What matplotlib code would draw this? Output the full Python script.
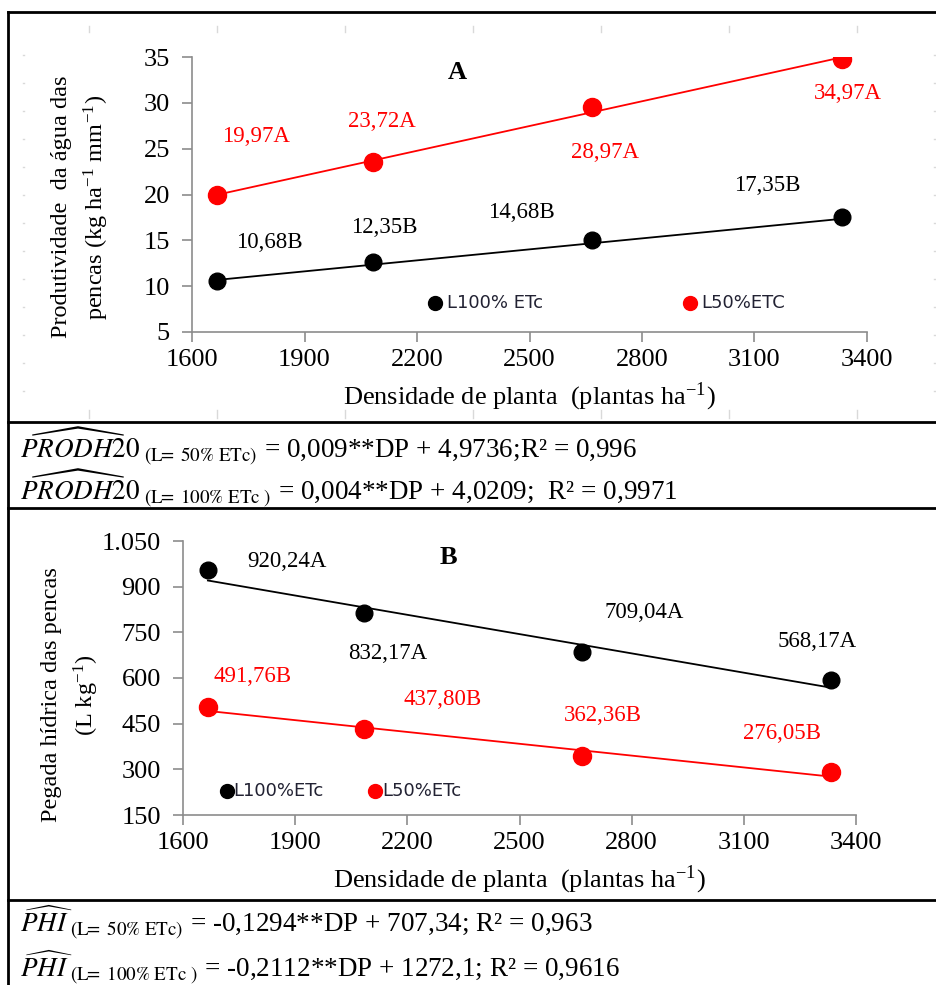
import matplotlib.pyplot as plt
from matplotlib.lines import Line2D

plt.rcParams['font.family'] = ['Liberation Serif', 'DejaVu Serif']
plt.rcParams['mathtext.fontset'] = 'stix'

# plant density (plants/ha)
density = [1666.67, 2083.33, 2666.67, 3333.33]

# A: water productivity of the hands, observed means
wp_100 = [10.6, 12.6, 15.0, 17.5]
wp_50 = [19.9, 23.5, 29.6, 34.8]
# A: fitted values shown as labels
wp_100_fit = [10.68, 12.35, 14.68, 17.35]
wp_50_fit = [19.97, 23.72, 28.97, 34.97]
wp_100_let = ['B', 'B', 'B', 'B']
wp_50_let = ['A', 'A', 'A', 'A']

# B: water footprint of the hands, observed means
wf_100 = [955, 813, 685, 593]
wf_50 = [505, 432, 344, 291]
# B: fitted values shown as labels
wf_100_fit = [920.24, 832.17, 709.04, 568.17]
wf_50_fit = [491.76, 437.80, 362.36, 276.05]
wf_100_let = ['A', 'A', 'A', 'A']
wf_50_let = ['B', 'B', 'B', 'B']

xticks = [1600, 1900, 2200, 2500, 2800, 3100, 3400]
yticks_a = [5, 10, 15, 20, 25, 30, 35]
yticks_b = [150, 300, 450, 600, 750, 900, 1050]
yticklabels_b = ['150', '300', '450', '600', '750', '900', '1.050']

RED = '#ff0000'
AXC = '#8c8c8c'


def fmt(v):
    return f'{v:.2f}'.replace('.', ',')


def style_axes(ax, yticks, ylabels=None):
    ax.set_xlim(1600, 3400)
    ax.set_xticks(xticks)
    ax.set_yticks(yticks)
    if ylabels:
        ax.set_yticklabels(ylabels)
    ax.set_ylim(yticks[0], yticks[-1])
    for s in ['top', 'right']:
        ax.spines[s].set_visible(False)
    for s in ['left', 'bottom']:
        ax.spines[s].set_color(AXC)
        ax.spines[s].set_linewidth(1.2)
    ax.tick_params(axis='both', colors=AXC, labelcolor='black', labelsize=19,
                   length=7, width=1.2, direction='out')
    ax.tick_params(axis='x', pad=5)
    ax.tick_params(axis='y', pad=9)
    ax.patch.set_alpha(0)


def put_labels(ax, fit, letters, offsets, color):
    for x, v, l, off in zip(density, fit, letters, offsets):
        ax.annotate(fmt(v) + l, (x, v), xytext=off, textcoords='offset points',
                    ha='center', va='center', fontsize=16.5, color=color)


fig = plt.figure(figsize=(9.37, 9.85), dpi=100)

# faint worksheet cell marks behind the charts
for xpx in range(89, 937, 128):
    for y0, y1 in [(26, 32), (410, 418)]:
        fig.add_artist(Line2D([xpx / 937] * 2, [1 - y0 / 985, 1 - y1 / 985],
                              transform=fig.transFigure, color='#d9d9d9', lw=1))
for ypx in range(55, 410, 28):
    for xpx in [23, 934]:
        fig.add_artist(Line2D([xpx / 937, (xpx + 1.5) / 937], [1 - ypx / 985] * 2,
                              transform=fig.transFigure, color='#d9d9d9', lw=1))

# ---- panel A ----
ax1 = fig.add_axes([192 / 937, 1 - 332 / 985, 675 / 937, 275 / 985])
ax1.plot(density, wp_50_fit, color=RED, lw=1.3, zorder=2)
ax1.plot(density, wp_100_fit, color='black', lw=1.3, zorder=2)
ax1.plot(density, wp_50, 'o', color=RED, ms=13, zorder=3)
ax1.plot(density, wp_100, 'o', color='black', ms=12, zorder=3)
style_axes(ax1, yticks_a)
put_labels(ax1, wp_50_fit, wp_50_let,
           [(28, 42), (6, 28), (9, -29), (4, -26)], RED)
put_labels(ax1, wp_100_fit, wp_100_let,
           [(38, 27), (8, 27), (-51, 22), (-54, 24)], 'black')
ax1.text(0.393, 0.944, 'A', transform=ax1.transAxes, fontsize=19,
         fontweight='bold', ha='center', va='center')
# in-plot legend
ax1.plot([0.36], [0.106], 'o', color='black', ms=10, transform=ax1.transAxes,
         clip_on=False)
ax1.text(0.378, 0.106, 'L100% ETc', transform=ax1.transAxes, va='center',
         fontsize=13, family='DejaVu Sans', color='#222233')
ax1.plot([0.738], [0.106], 'o', color=RED, ms=10, transform=ax1.transAxes,
         clip_on=False)
ax1.text(0.755, 0.106, 'L50%ETC', transform=ax1.transAxes, va='center',
         fontsize=13, family='DejaVu Sans', color='#222233')
fig.text(81 / 937, 1 - 207 / 985,
         'Produtividade  da água das\npencas (kg ha$^{\\mathregular{-1}}$ mm$^{\\mathregular{-1}}$)',
         rotation=90, ha='center', va='center', multialignment='center',
         fontsize=17.5, linespacing=1.45)
fig.text(529 / 937, 1 - 397 / 985,
         'Densidade de planta  (plantas ha$^{\\mathregular{-1}}$)',
         ha='center', va='center', fontsize=19)

# ---- panel B ----
ax2 = fig.add_axes([183 / 937, 1 - 815 / 985, 673 / 937, 274 / 985])
ax2.plot(density, wf_100_fit, color='black', lw=1.3, zorder=2)
ax2.plot(density, wf_50_fit, color=RED, lw=1.3, zorder=2)
ax2.plot(density, wf_100, 'o', color='black', ms=12, zorder=3)
ax2.plot(density, wf_50, 'o', color=RED, ms=13, zorder=3)
style_axes(ax2, yticks_b, yticklabels_b)
put_labels(ax2, wf_100_fit, wf_100_let,
           [(57, 14), (17, -33), (45, 23), (-10, 33)], 'black')
put_labels(ax2, wf_50_fit, wf_50_let,
           [(32, 25), (57, 20), (15, 25), (-35, 31)], RED)
ax2.text(0.395, 0.938, 'B', transform=ax2.transAxes, fontsize=19,
         fontweight='bold', ha='center', va='center')
ax2.plot([0.065], [0.088], 'o', color='black', ms=10, transform=ax2.transAxes,
         clip_on=False)
ax2.text(0.075, 0.088, 'L100%ETc', transform=ax2.transAxes, va='center',
         fontsize=13, family='DejaVu Sans', color='#222233')
ax2.plot([0.285], [0.088], 'o', color=RED, ms=10, transform=ax2.transAxes,
         clip_on=False)
ax2.text(0.296, 0.088, 'L50%ETc', transform=ax2.transAxes, va='center',
         fontsize=13, family='DejaVu Sans', color='#222233')
fig.text(71 / 937, 1 - 695 / 985,
         'Pegada hídrica das pencas\n(L kg$^{\\mathregular{-1}}$)',
         rotation=90, ha='center', va='center', multialignment='center',
         fontsize=17.5, linespacing=1.45)
fig.text(519 / 937, 1 - 880 / 985,
         'Densidade de planta  (plantas ha$^{\\mathregular{-1}}$)',
         ha='center', va='center', fontsize=19)

# ---- regression equations ----
eqs = [
    (458, r'$\widehat{PRODH}20_{\mathrm{\ (L\!\!=\ 50\%\ ETc)}}$ = 0,009**DP + 4,9736;R² = 0,996'),
    (500, r'$\widehat{PRODH}20_{\mathrm{\ (L\!\!=\ 100\%\ ETc\ )}}$ = 0,004**DP + 4,0209;  R² = 0,9971'),
    (932, r'$\widehat{PHI}_{\mathrm{\ (L\!\!=\ 50\%\ ETc)}}$ = -0,1294**DP + 707,34; R² = 0,963'),
    (977, r'$\widehat{PHI}_{\mathrm{\ (L\!\!=\ 100\%\ ETc\ )}}$ = -0,2112**DP + 1272,1; R² = 0,9616'),
]
for ypx, s in eqs:
    fig.text(20 / 937, 1 - ypx / 985, s, ha='left', va='baseline', fontsize=19.5)

# ---- table frame ----
for ypx in [12, 422, 508, 900]:
    fig.add_artist(Line2D([8 / 937, 1], [1 - ypx / 985] * 2,
                          transform=fig.transFigure, color='black', lw=2))
fig.add_artist(Line2D([8 / 937] * 2, [1 - 12 / 985, 0],
                      transform=fig.transFigure, color='black', lw=2))

fig.savefig('out.png', dpi=100)
